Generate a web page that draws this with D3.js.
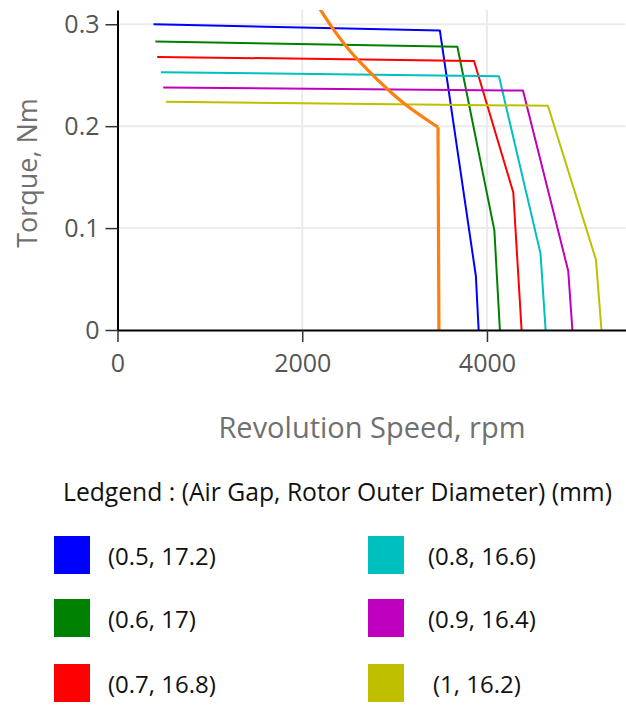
<!DOCTYPE html>
<html>
<head>
<meta charset="utf-8">
<script src="https://cdn.jsdelivr.net/npm/d3@7"></script>
<style>
  html, body { margin: 0; padding: 0; background: #fff; overflow: hidden; }
  svg { display: block; }
  svg text { font-family: "Open Sans", "Noto Sans", sans-serif; }
</style>
</head>
<body>
<div id="chart"></div>
<script>
// series labels (air gap, rotor outer diameter) and colours
const seriesNames = ["(0.5, 17.2)", "(0.6, 17)", "(0.7, 16.8)", "(0.8, 16.6)", "(0.9, 16.4)", "(1, 16.2)"];
const seriesColors = ["#0000ff", "#008000", "#ff0000", "#00bfbf", "#bf00bf", "#bfbf00"];

// speed (rpm) and torque (Nm) for each series
const speedA = [390, 3490, 3880, 3910];
const torqueA = [0.300, 0.294, 0.053, 0];
const speedB = [410, 3680, 4080, 4140];
const torqueB = [0.283, 0.278, 0.098, 0];
const speedC = [430, 3860, 4285, 4375];
const torqueC = [0.268, 0.264, 0.135, 0];
const speedD = [470, 4130, 4580, 4635];
const torqueD = [0.253, 0.249, 0.075, 0];
const speedE = [495, 4390, 4880, 4925];
const torqueE = [0.238, 0.235, 0.058, 0];
const speedF = [525, 4660, 5180, 5240];
const torqueF = [0.224, 0.220, 0.069, 0];

// load curve (orange): curved part, then the drop to zero
const loadSpeed = [2150, 2330, 2515, 2700, 2915, 3135, 3305, 3470];
const loadTorque = [0.321, 0.296, 0.274, 0.256, 0.237, 0.220, 0.209, 0.199];
const dropSpeed = [3470, 3480];
const dropTorque = [0.199, 0];

const xTicks = [0, 2000, 4000];
const yTicks = [0, 0.1, 0.2, 0.3];

const allSpeeds = [speedA, speedB, speedC, speedD, speedE, speedF];
const allTorques = [torqueA, torqueB, torqueC, torqueD, torqueE, torqueF];

const width = 626;
const height = 705;
const margin = { top: 10, right: 0.5, bottom: 375, left: 117.5 };
const innerWidth = width - margin.left - margin.right;
const innerHeight = height - margin.top - margin.bottom;

const svg = d3
  .select("#chart")
  .append("svg")
  .attr("width", width)
  .attr("height", height);

const x = d3.scaleLinear().domain([0, 5500]).range([margin.left, margin.left + innerWidth]);
const y = d3.scaleLinear().domain([0, 0.314]).range([margin.top + innerHeight, margin.top]);

svg
  .append("defs")
  .append("clipPath")
  .attr("id", "plot-clip")
  .append("rect")
  .attr("x", margin.left)
  .attr("y", margin.top)
  .attr("width", innerWidth)
  .attr("height", innerHeight);

// gridlines
svg
  .append("g")
  .selectAll("line")
  .data(yTicks.filter((d) => d > 0))
  .enter()
  .append("line")
  .attr("x1", margin.left)
  .attr("x2", margin.left + innerWidth)
  .attr("y1", (d) => y(d))
  .attr("y2", (d) => y(d))
  .attr("stroke", "#ebebeb")
  .attr("stroke-width", 2);

svg
  .append("g")
  .selectAll("line")
  .data(xTicks.filter((d) => d > 0))
  .enter()
  .append("line")
  .attr("x1", (d) => x(d))
  .attr("x2", (d) => x(d))
  .attr("y1", margin.top)
  .attr("y2", margin.top + innerHeight)
  .attr("stroke", "#ebebeb")
  .attr("stroke-width", 2);

const line = d3
  .line()
  .x((d) => x(d[0]))
  .y((d) => y(d[1]));

const smoothLine = d3
  .line()
  .x((d) => x(d[0]))
  .y((d) => y(d[1]))
  .curve(d3.curveMonotoneX);

const plot = svg.append("g").attr("clip-path", "url(#plot-clip)");

// motor curves
allSpeeds.forEach((speeds, i) => {
  const pts = speeds.map((s, j) => [s, allTorques[i][j]]);
  plot
    .append("path")
    .datum(pts)
    .attr("fill", "none")
    .attr("stroke", seriesColors[i])
    .attr("stroke-width", 2)
    .attr("stroke-linejoin", "round")
    .attr("d", line);
});

// load curve
plot
  .append("path")
  .datum(loadSpeed.map((s, j) => [s, loadTorque[j]]))
  .attr("fill", "none")
  .attr("stroke", "#ff7f0e")
  .attr("stroke-width", 3.2)
  .attr("d", smoothLine);

plot
  .append("path")
  .datum(dropSpeed.map((s, j) => [s, dropTorque[j]]))
  .attr("fill", "none")
  .attr("stroke", "#ff7f0e")
  .attr("stroke-width", 3.2)
  .attr("d", line);

// axes
const xAxis = svg
  .append("g")
  .attr("transform", `translate(0,${y(0)})`)
  .call(d3.axisBottom(x).tickValues(xTicks).tickSize(12).tickSizeOuter(0).tickPadding(12).tickFormat(d3.format("d")));

const yAxis = svg
  .append("g")
  .attr("transform", `translate(${x(0)},0)`)
  .call(d3.axisLeft(y).tickValues(yTicks).tickSize(12).tickSizeOuter(0).tickPadding(6).tickFormat((d) => (d === 0 ? "0" : d3.format(".1f")(d))));

[xAxis, yAxis].forEach((ax) => {
  ax.select(".domain").attr("stroke", "#000").attr("stroke-width", 2);
  ax.selectAll(".tick line").attr("stroke", "#333").attr("stroke-width", 1.5);
  ax.selectAll(".tick text")
    .attr("fill", "#555")
    .style("font-size", "25px")
    .style("font-family", '"Open Sans", sans-serif');
});

// axis titles
svg
  .append("text")
  .attr("x", 372)
  .attr("y", 438)
  .attr("text-anchor", "middle")
  .attr("fill", "#707070")
  .style("font-size", "29px")
  .text("Revolution Speed, rpm");

svg
  .append("text")
  .attr("transform", "translate(37,173) rotate(-90)")
  .attr("text-anchor", "middle")
  .attr("fill", "#707070")
  .style("font-size", "27px")
  .text("Torque, Nm");

// legend
svg
  .append("text")
  .attr("x", 63)
  .attr("y", 501)
  .attr("fill", "#111")
  .style("font-size", "24.7px")
  .text("Ledgend : (Air Gap, Rotor Outer Diameter) (mm)");

const legendRows = [555, 618, 683];
const legendCols = [[54, 108], [368, 428]];

const legend = svg
  .append("g")
  .selectAll("g")
  .data(seriesNames)
  .enter()
  .append("g")
  .attr("transform", (d, i) => {
    const col = legendCols[Math.floor(i / 3)];
    return `translate(${col[0]},${legendRows[i % 3]})`;
  });

legend
  .append("rect")
  .attr("x", 0)
  .attr("y", -19)
  .attr("width", 36)
  .attr("height", 38)
  .attr("fill", (d, i) => seriesColors[i]);

legend
  .append("text")
  .attr("x", (d, i) => (i === 5 ? 433 - 368 : legendCols[Math.floor(i / 3)][1] - legendCols[Math.floor(i / 3)][0]))
  .attr("y", 10)
  .attr("fill", "#111")
  .style("font-size", "24px")
  .text((d) => d);
</script>
</body>
</html>
